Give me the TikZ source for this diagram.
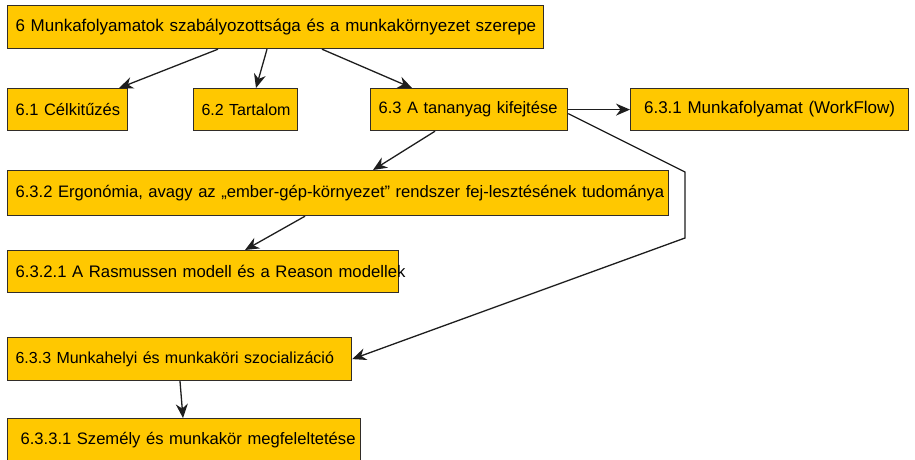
\documentclass[tikz,border=0pt]{standalone}
\usepackage{fontspec}
\setmainfont{Liberation Sans}
\usetikzlibrary{arrows.meta,positioning,calc}
\definecolor{boxfill}{RGB}{255,200,0}
\definecolor{boxline}{RGB}{50,45,40}
\definecolor{arrline}{RGB}{30,30,30}

\begin{document}
\begin{tikzpicture}[
  x=1pt,y=-1pt,
  font=\fontsize{17}{20}\selectfont,
  fs/.style={font=\fontsize{#1}{20}\selectfont},
  box/.style={draw=boxline,line width=1.2pt,fill=boxfill,anchor=north west,
              align=left,inner xsep=8pt,inner ysep=0pt,minimum height=43pt},
  arr/.style={-{Stealth[length=14pt,width=12pt]},arrline,line width=1.3pt}
]
\useasboundingbox[fill=white] (0,0) rectangle (915,460);

\node[box,text width=520pt] (root) at (7,5)
  {\mbox{6 Munkafolyamatok szabályozottsága és a munkakörnyezet szerepe}};

\node[box,fs=16.5,text width=104pt,minimum height=42pt] (c61) at (7,88) {\mbox{6.1 Célkitűzés}};
\node[box,fs=16,text width=88pt,minimum height=42pt] (c62) at (193,88) {\mbox{6.2 Tartalom}};
\node[box,fs=16.5,text width=181pt,minimum height=42pt] (c63) at (370,88) {\mbox{6.3 A tananyag kifejtése}};
\node[box,text width=262pt,minimum height=42pt,align=center] (c631) at (630,88)
  {\mbox{6.3.1 Munkafolyamat (WorkFlow)}};

\node[box,fs=16.6,text width=645pt,minimum height=45pt] (c632) at (7,170)
  {\mbox{6.3.2 Ergonómia, avagy az „ember-gép-környezet” rendszer fej-lesztésének tudománya}};
\node[box,fs=16.7,text width=375pt,minimum height=42pt] (c6321) at (7,250)
  {\mbox{6.3.2.1 A Rasmussen modell és a Reason modellek}};

\node[box,fs=16,text width=328pt] (c633) at (7,337)
  {\mbox{6.3.3 Munkahelyi és munkaköri szocializáció}};
\node[box,fs=16.6,text width=337pt] (c6331) at (7,418)
  {\mbox{\hspace*{5pt}6.3.3.1 Személy és munkakör megfeleltetése}};

% kanyar a 6.3 -> 6.3.3 nyilhoz
\coordinate (bend1) at (685,172);
\coordinate (bend2) at (685,238);

\draw[arr] ([xshift=211pt]root.south west) -- ([xshift=-9pt]c61.north east);
\draw[arr] ([xshift=260pt]root.south west) -- ([xshift=63pt]c62.north west);
\draw[arr] ([xshift=315pt]root.south west) -- ([xshift=42pt]c63.north west);
\draw[arr] (c63.east) -- (c631.west);
\draw[arr] ([xshift=65pt]c63.south west) -- ([xshift=366pt]c632.north west);
\draw[arr] ([xshift=298pt]c632.south west) -- ([xshift=238pt]c6321.north west);
\draw[arr] ([yshift=-4pt]c63.east) -- (bend1) -- (bend2) -- (c633.east);
\draw[arr] ([xshift=173pt]c633.south west) -- ([xshift=176pt]c6331.north west);
\end{tikzpicture}
\end{document}
